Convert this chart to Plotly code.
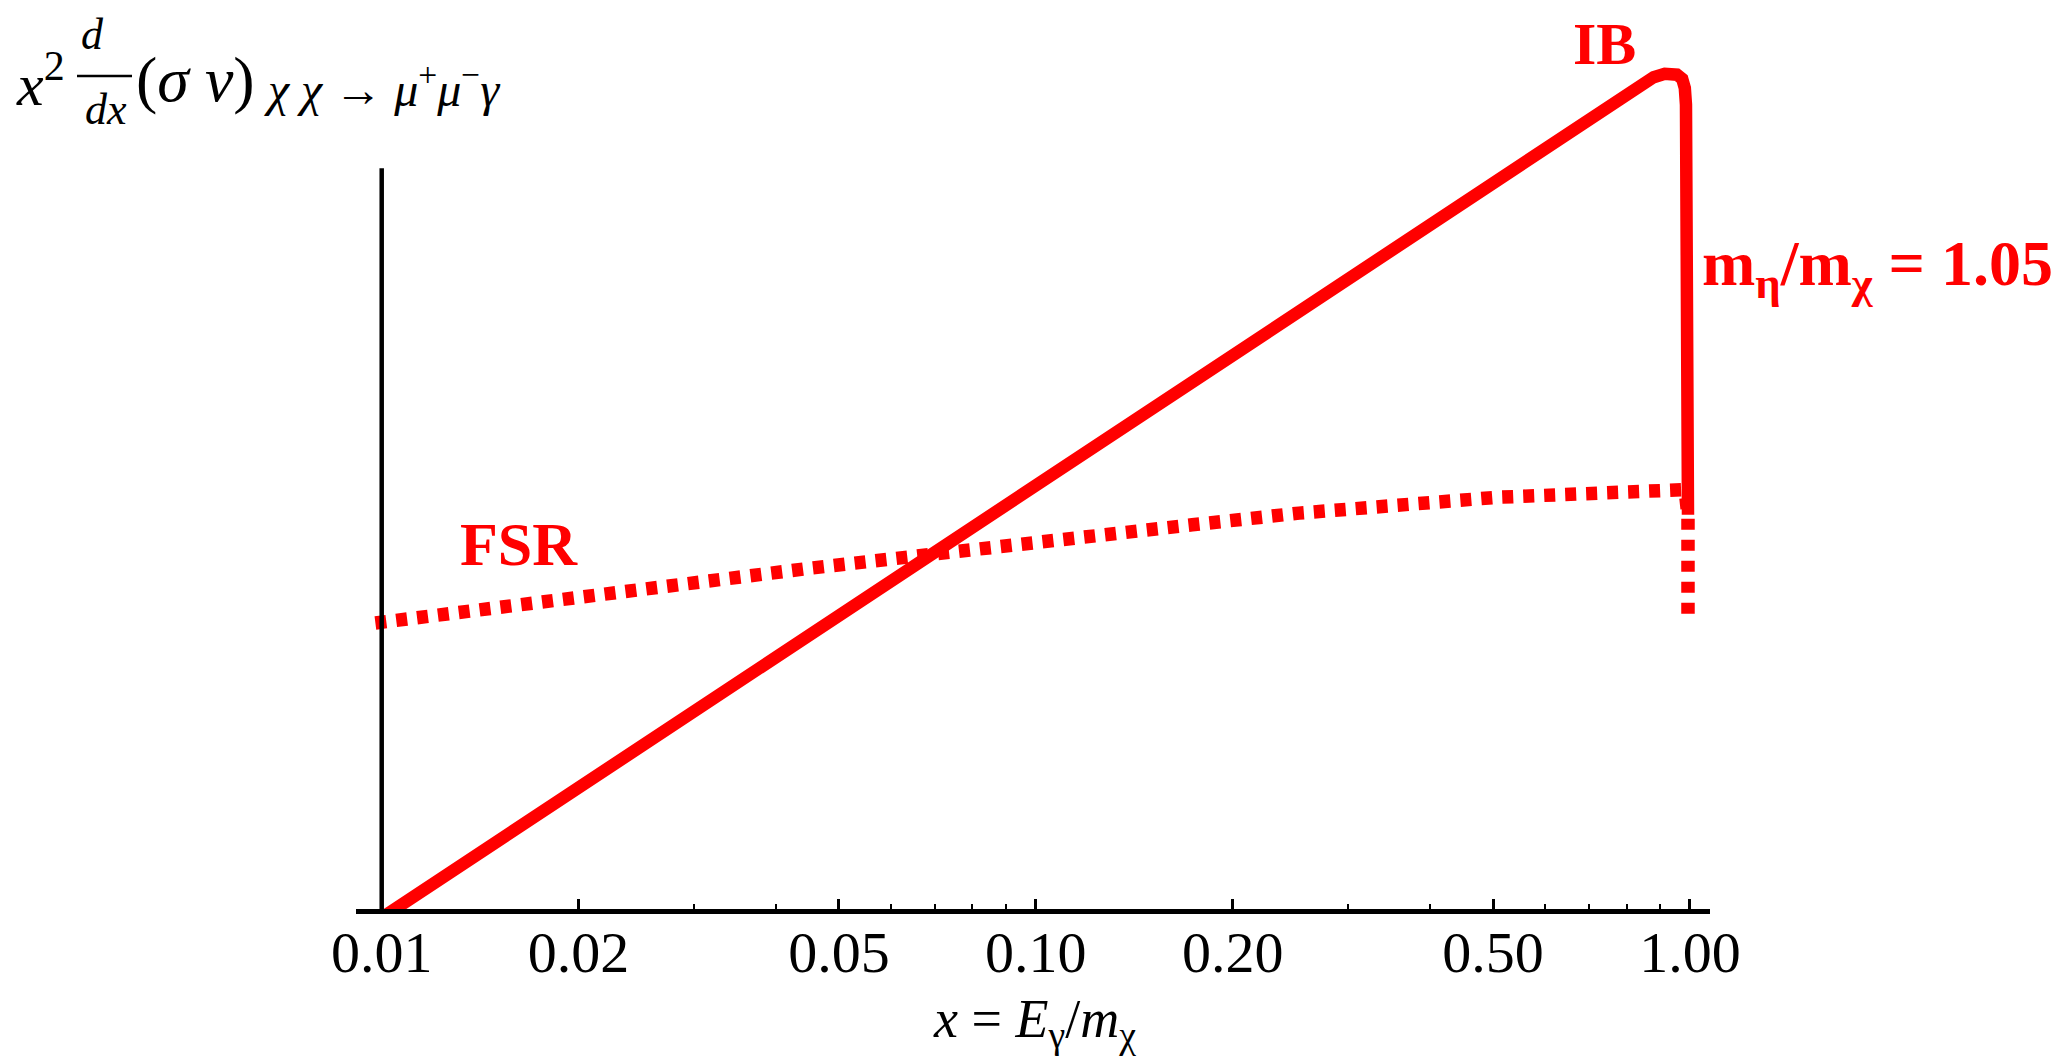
import plotly.graph_objects as go
import math

# ---- data: x = E_gamma / m_chi, y = x^2 d(sigma v)/dx in arbitrary units ----
ib_x = [0.0100, 0.1000, 0.5000, 0.750, 0.830, 0.880, 0.915,
        0.955, 0.973, 0.982, 0.986, 0.9895, 0.993]
ib_y = [-0.0105, 0.5066, 0.868, 0.959, 0.986, 0.996, 1.000,
        0.999, 0.994, 0.983, 0.963, 0.729, 0.472]

fsr_x = [0.00978, 0.0332, 0.0451, 0.1734, 0.2526, 0.509, 0.895,
         0.973, 0.986, 0.993, 0.993]
fsr_y = [0.3425, 0.394, 0.408, 0.460, 0.474, 0.493, 0.504,
         0.502, 0.492, 0.470, 0.344]

tick_vals = [0.01, 0.02, 0.05, 0.10, 0.20, 0.50, 1.00]
tick_text = ["0.01", "0.02", "0.05", "0.10", "0.20", "0.50", "1.00"]
minor_vals = [0.03, 0.04, 0.06, 0.07, 0.08, 0.09, 0.3, 0.4, 0.6, 0.7, 0.8, 0.9]

RED = "#ff0000"
SERIF = "Liberation Serif, Times New Roman, serif"

# ---- page geometry (pixels) ----
W, H = 2066, 1063
ML, MR, MT, MB = 356, 356, 7, 154
PW, PH = W - ML - MR, H - MT - MB
PB = MT + PH  # y pixel of the x axis line

X_RANGE = [-2.0393, 0.0306]   # log10 units
Y_RANGE = [0.0, 1.08]
Y_AXIS_TOP = 0.887            # height reached by the vertical axis line


def paper(px, py):
    """pixel position on the page -> paper coordinates of the plot area"""
    return (px - ML) / PW, (PB - py) / PH


fig = go.Figure()

fig.add_trace(go.Scatter(
    x=fsr_x, y=fsr_y, mode="lines", name="FSR",
    line=dict(color=RED, width=13.5, dash="11px,10px"),
    hoverinfo="skip",
))
fig.add_trace(go.Scatter(
    x=ib_x, y=ib_y, mode="lines", name="IB",
    line=dict(color=RED, width=12.5),
    hoverinfo="skip",
))

# vertical axis drawn at x = 0.01
x_axis_pos = (math.log10(0.01) - X_RANGE[0]) / (X_RANGE[1] - X_RANGE[0])
fig.add_shape(type="line", xref="paper", yref="y",
              x0=x_axis_pos, x1=x_axis_pos, y0=0, y1=Y_AXIS_TOP,
              line=dict(color="black", width=4.5), layer="above")

annotations = []


def label(text, px, py, size, xanchor="center", bold=False, color="black"):
    x, y = paper(px, py)
    if bold:
        text = "<b>" + text + "</b>"
    annotations.append(dict(
        text=text, x=x, y=y, xref="paper", yref="paper",
        xanchor=xanchor, yanchor="middle", showarrow=False,
        font=dict(family=SERIF, size=size, color=color),
    ))


# curve labels
label("IB", 1604, 44, 60, bold=True, color=RED)
label("FSR", 519, 544, 62, bold=True, color=RED)
label("m<sub>η</sub>/m<sub>χ</sub> = 1.05", 1700, 268, 64,
      xanchor="left", bold=True, color=RED)

# y-axis title: x^2 d/dx (sigma v)_{chi chi -> mu+ mu- gamma}
label("<i>x</i><sup>2</sup>", 14, 80, 60, xanchor="left")
label("<i>d</i>", 92, 35, 44)
label("<i>dx</i>", 106, 110, 44)
label("(<i>σ v</i>)", 134, 79, 64, xanchor="left")
label("<i>χ χ</i> → <i>μ</i><sup>+</sup><i>μ</i><sup>−</sup><i>γ</i>", 262, 86, 48,
      xanchor="left")
bx0, by = paper(77, 76)
bx1, _ = paper(132, 76)
fig.add_shape(type="line", xref="paper", yref="paper",
              x0=bx0, x1=bx1, y0=by, y1=by,
              line=dict(color="black", width=2.5))

# x-axis title
label("<i>x</i> = <i>E</i><sub>γ</sub>/<i>m</i><sub>χ</sub>", 1034, 1022, 54)

fig.update_layout(
    width=W, height=H,
    margin=dict(l=ML, r=MR, t=MT, b=MB, pad=0),
    paper_bgcolor="white", plot_bgcolor="white",
    showlegend=False,
    annotations=annotations,
    xaxis=dict(
        type="log", range=X_RANGE,
        showgrid=False, zeroline=False,
        showline=True, linecolor="black", linewidth=5,
        ticks="inside", ticklen=10, tickwidth=3, tickcolor="black",
        tickvals=tick_vals, ticktext=tick_text,
        tickfont=dict(family=SERIF, size=58, color="black"),
        ticklabelstandoff=-12,
        minor=dict(tickvals=minor_vals, ticks="inside", ticklen=5,
                   tickwidth=2, tickcolor="black", showgrid=False),
        fixedrange=True,
    ),
    yaxis=dict(
        range=Y_RANGE, visible=False, showgrid=False, zeroline=False,
        fixedrange=True,
    ),
)

fig.write_html("out.html")
